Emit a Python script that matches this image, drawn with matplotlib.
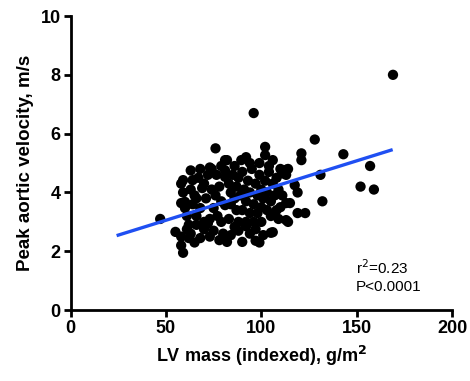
import matplotlib
matplotlib.use('Agg')
import matplotlib.pyplot as plt
import numpy as np

plt.rcParams['font.family'] = ['Liberation Sans', 'DejaVu Sans']

# LV mass (indexed) vs peak aortic velocity
lv_mass = [
    47, 59, 169, 96, 128, 121, 121, 143, 157, 131, 114, 111, 152, 159, 132, 115,
    119, 123, 114, 117.5, 119, 111, 113,
    76, 81, 73, 63, 102, 92, 89.5, 102, 106, 99, 82, 113, 81,
    59, 64, 58, 59, 58, 60, 60, 55, 58, 58, 62, 61, 63, 65,
    69, 71, 76.5, 81, 68, 75, 81, 113, 113,
    67, 70, 72, 74, 76, 78, 79, 83, 84, 85, 86, 87, 88, 89, 90, 91, 92, 93,
    94, 95, 96, 97, 98, 99, 100, 101, 102, 103, 104, 105, 106, 107, 108, 109,
    110, 98, 100, 103, 94, 90, 77, 73, 70, 66, 64, 66, 68, 74, 79, 86, 94, 104,
    108, 110, 109, 105, 79, 83, 88, 92, 96, 100, 84, 87,
    105, 97, 94, 86, 78, 82, 90, 73, 99, 106, 68, 63, 65, 70, 75, 80, 84, 88,
    92, 97, 101, 66, 72, 61, 62,
]
peak_vel = [
    3.1, 1.95, 8.0, 6.7, 5.8, 5.33, 5.1, 5.3, 4.9, 4.6, 4.8, 4.65, 4.2, 4.1, 3.7, 3.64,
    3.3, 3.3, 3.0, 4.25, 4.0, 3.9, 3.06,
    5.5, 5.1, 4.85, 4.75, 5.55, 5.2, 5.1, 5.27, 5.1, 5.0, 5.1, 4.77, 4.75,
    4.42, 4.42, 4.3, 4.0, 3.64, 3.68, 3.47, 2.66, 2.5, 2.2, 2.9, 3.2, 4.1, 3.9,
    4.15, 3.8, 4.6, 4.53, 3.47, 3.47, 3.57, 4.6, 3.64,
    4.5, 4.3, 4.6, 4.1, 3.9, 4.2, 3.7, 4.3, 4.0, 4.6, 3.8, 4.2, 4.5, 3.9, 4.7, 4.1, 3.7, 4.4,
    4.0, 4.8, 3.6, 4.3, 3.9, 4.6, 4.1, 3.8, 4.4, 4.0, 4.7, 3.7, 4.3, 3.9, 4.5, 4.1,
    4.8, 3.3, 3.5, 3.4, 3.3, 3.4, 3.2, 3.1, 3.0, 3.2, 3.6, 3.8, 4.8, 4.8, 4.9, 4.9, 5.0, 4.9,
    3.4, 3.5, 3.1, 3.2, 3.0, 3.1, 3.0, 3.0, 3.0, 3.0, 3.6, 3.4,
    2.63, 2.36, 2.6, 2.83, 2.38, 2.32, 2.32, 2.5, 2.3, 2.65, 2.45, 2.6, 2.3, 2.75, 2.7, 2.6, 2.55, 2.7,
    2.85, 2.75, 2.55, 2.9, 2.95, 2.75, 2.45,
]

# regression line end points
fit_x = [25, 168]
fit_y = [2.55, 5.44]

fig = plt.figure(figsize=(4.7, 3.81), dpi=100)
ax = fig.add_axes([0.15, 0.186, 0.812, 0.772])

ax.scatter(lv_mass, peak_vel, s=55, color='black', edgecolors='none', zorder=3)
ax.plot(fit_x, fit_y, color='#1f4ff2', lw=2.4, zorder=4)

ax.set_xlim(0, 200)
ax.set_ylim(0, 10)
ax.set_xticks([0, 50, 100, 150, 200])
ax.set_yticks([0, 2, 4, 6, 8, 10])

for s in ['top', 'right']:
    ax.spines[s].set_visible(False)
for s in ['left', 'bottom']:
    ax.spines[s].set_linewidth(2)
ax.tick_params(width=2, length=5, labelsize=13, pad=2)
for lab in ax.get_xticklabels() + ax.get_yticklabels():
    lab.set_fontweight('bold')

ax.set_xlabel('LV mass (indexed), g/m$^\\mathbf{2}$', fontsize=13, fontweight='bold', labelpad=5)
ax.set_ylabel('Peak aortic velocity, m/s', fontsize=13.5, fontweight='bold', labelpad=5)

ax.text(149.5, 1.45, 'r$^2$=0.23', fontsize=11, va='center')
ax.text(149.5, 0.8, 'P<0.0001', fontsize=11, va='center')

fig.savefig('out.png', dpi=100)
